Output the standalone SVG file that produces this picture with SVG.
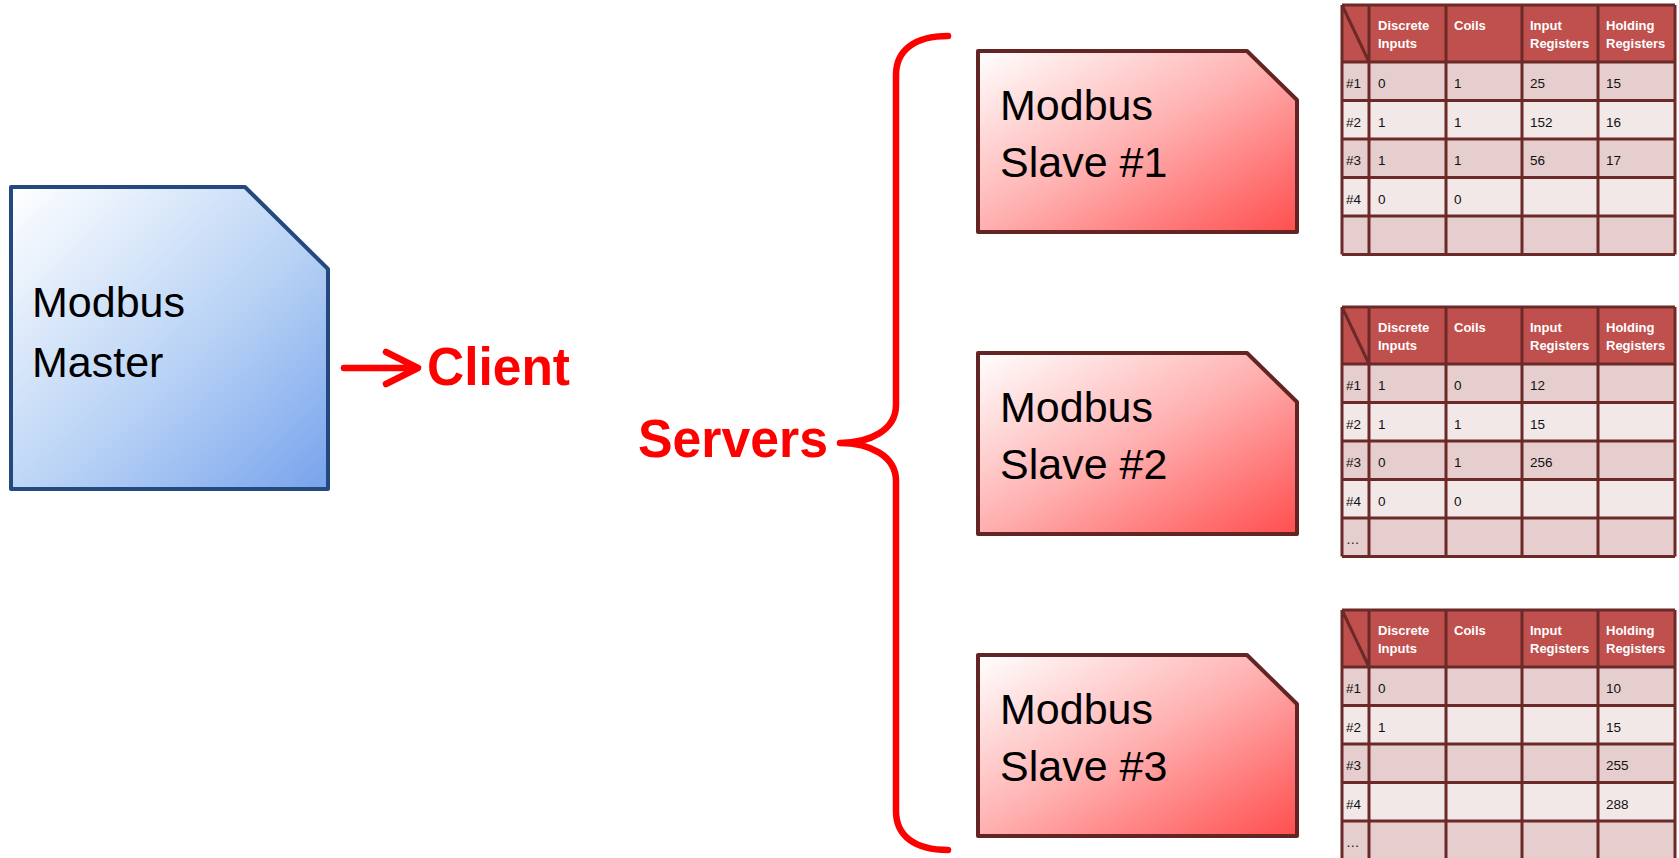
<svg xmlns="http://www.w3.org/2000/svg" width="1679" height="858" viewBox="0 0 1679 858">
<defs>
<linearGradient id="gBlue" x1="0" y1="0" x2="1" y2="1">
<stop offset="0" stop-color="#FFFFFF"/>
<stop offset="0.55" stop-color="#B9D3F5"/>
<stop offset="1" stop-color="#78A3EC"/>
</linearGradient>
<linearGradient id="gRed" x1="0" y1="0" x2="1" y2="1">
<stop offset="0" stop-color="#FFFFFF"/>
<stop offset="0.5" stop-color="#FFAFAF"/>
<stop offset="1" stop-color="#FF4E4E"/>
</linearGradient>
<style>
.big{font-family:"Liberation Sans",Arial,sans-serif;font-size:43px;fill:#000}
.red{font-family:"Liberation Sans",Arial,sans-serif;font-weight:bold;font-size:54px;fill:#FF0000}
.master{fill:url(#gBlue);stroke:#24497E;stroke-width:4;stroke-linejoin:round}
.slave{fill:url(#gRed);stroke:#632523;stroke-width:4;stroke-linejoin:round}
.conn{fill:none;stroke:#FF0000;stroke-width:6.5;stroke-linecap:round;stroke-linejoin:round}
.hd{fill:#C0504D}
.r1{fill:#E6CECE}
.r2{fill:#F2E8E8}
.grid{stroke:#6B2A28;stroke-width:3;fill:none}
.th{font-family:"Liberation Sans",Arial,sans-serif;font-weight:bold;font-size:13px;fill:#FFFFFF}
.td{font-family:"Liberation Sans",Arial,sans-serif;font-size:13.5px;fill:#111}
</style>
</defs>
<rect width="1679" height="858" fill="#FFFFFF"/>

<g id="connectors">
<path class="conn" d="M344 368 H414 M386 352 L418 368 L386 384"/>
<path class="conn" d="M948 36 C915 36 896 50 896 75 L896 405 C896 430 870 443 840 443 C870 443 896 456 896 481 L896 811 C896 836 915 850 948 850"/>
</g>

<g id="master">
<path class="master" d="M11 187 H245 L328 269 V489 H11 Z"/>
<text class="big" x="32" y="317">Modbus</text>
<text class="big" x="32" y="377">Master</text>
</g>

<g id="client-label">
<text class="red" x="427" y="385" textLength="143" lengthAdjust="spacingAndGlyphs">Client</text>
</g>

<g id="servers-label">
<text class="red" x="638" y="457" textLength="190" lengthAdjust="spacingAndGlyphs">Servers</text>
</g>

<g id="slave1">
<path class="slave" d="M978 51 H1247 L1297 100 V232 H978 Z"/>
<text class="big" x="1000" y="120">Modbus</text>
<text class="big" x="1000" y="177">Slave #1</text>
</g>
<g id="slave2">
<path class="slave" d="M978 353 H1247 L1297 402 V534 H978 Z"/>
<text class="big" x="1000" y="422">Modbus</text>
<text class="big" x="1000" y="479">Slave #2</text>
</g>
<g id="slave3">
<path class="slave" d="M978 655 H1247 L1297 704 V836 H978 Z"/>
<text class="big" x="1000" y="724">Modbus</text>
<text class="big" x="1000" y="781">Slave #3</text>
</g>

<g id="table1">
<rect class="hd" x="1342" y="5" width="333" height="57"/>
<rect class="r1" x="1342" y="62" width="333" height="38.5"/>
<rect class="r2" x="1342" y="100.5" width="333" height="38.5"/>
<rect class="r1" x="1342" y="139" width="333" height="38.5"/>
<rect class="r2" x="1342" y="177.5" width="333" height="38.5"/>
<rect class="r1" x="1342" y="216" width="333" height="38.5"/>
<path class="grid" d="M1342 5 H1675 M1342 62 H1675 M1342 100.5 H1675 M1342 139 H1675 M1342 177.5 H1675 M1342 216 H1675 M1342 254.5 H1675 M1342 5 V254.5 M1369 5 V254.5 M1446 5 V254.5 M1522 5 V254.5 M1598 5 V254.5 M1675 5 V254.5 M1342 5 L1369 62"/>
<text class="th" x="1378" y="30">Discrete</text><text class="th" x="1378" y="48">Inputs</text>
<text class="th" x="1454" y="30">Coils</text>
<text class="th" x="1530" y="30">Input</text><text class="th" x="1530" y="48">Registers</text>
<text class="th" x="1606" y="30">Holding</text><text class="th" x="1606" y="48">Registers</text>
<text class="td" x="1346" y="88">#1</text><text class="td" x="1378" y="88">0</text><text class="td" x="1454" y="88">1</text><text class="td" x="1530" y="88">25</text><text class="td" x="1606" y="88">15</text>
<text class="td" x="1346" y="126.5">#2</text><text class="td" x="1378" y="126.5">1</text><text class="td" x="1454" y="126.5">1</text><text class="td" x="1530" y="126.5">152</text><text class="td" x="1606" y="126.5">16</text>
<text class="td" x="1346" y="165">#3</text><text class="td" x="1378" y="165">1</text><text class="td" x="1454" y="165">1</text><text class="td" x="1530" y="165">56</text><text class="td" x="1606" y="165">17</text>
<text class="td" x="1346" y="203.5">#4</text><text class="td" x="1378" y="203.5">0</text><text class="td" x="1454" y="203.5">0</text>
</g>

<g id="table2" transform="translate(0,302)">
<rect class="hd" x="1342" y="5" width="333" height="57"/>
<rect class="r1" x="1342" y="62" width="333" height="38.5"/>
<rect class="r2" x="1342" y="100.5" width="333" height="38.5"/>
<rect class="r1" x="1342" y="139" width="333" height="38.5"/>
<rect class="r2" x="1342" y="177.5" width="333" height="38.5"/>
<rect class="r1" x="1342" y="216" width="333" height="38.5"/>
<path class="grid" d="M1342 5 H1675 M1342 62 H1675 M1342 100.5 H1675 M1342 139 H1675 M1342 177.5 H1675 M1342 216 H1675 M1342 254.5 H1675 M1342 5 V254.5 M1369 5 V254.5 M1446 5 V254.5 M1522 5 V254.5 M1598 5 V254.5 M1675 5 V254.5 M1342 5 L1369 62"/>
<text class="th" x="1378" y="30">Discrete</text><text class="th" x="1378" y="48">Inputs</text>
<text class="th" x="1454" y="30">Coils</text>
<text class="th" x="1530" y="30">Input</text><text class="th" x="1530" y="48">Registers</text>
<text class="th" x="1606" y="30">Holding</text><text class="th" x="1606" y="48">Registers</text>
<text class="td" x="1346" y="88">#1</text><text class="td" x="1378" y="88">1</text><text class="td" x="1454" y="88">0</text><text class="td" x="1530" y="88">12</text>
<text class="td" x="1346" y="126.5">#2</text><text class="td" x="1378" y="126.5">1</text><text class="td" x="1454" y="126.5">1</text><text class="td" x="1530" y="126.5">15</text>
<text class="td" x="1346" y="165">#3</text><text class="td" x="1378" y="165">0</text><text class="td" x="1454" y="165">1</text><text class="td" x="1530" y="165">256</text>
<text class="td" x="1346" y="203.5">#4</text><text class="td" x="1378" y="203.5">0</text><text class="td" x="1454" y="203.5">0</text>
<text class="td" x="1346" y="242" font-size="11">…</text>
</g>

<g id="table3" transform="translate(0,605)">
<rect class="hd" x="1342" y="5" width="333" height="57"/>
<rect class="r1" x="1342" y="62" width="333" height="38.5"/>
<rect class="r2" x="1342" y="100.5" width="333" height="38.5"/>
<rect class="r1" x="1342" y="139" width="333" height="38.5"/>
<rect class="r2" x="1342" y="177.5" width="333" height="38.5"/>
<rect class="r1" x="1342" y="216" width="333" height="38.5"/>
<path class="grid" d="M1342 5 H1675 M1342 62 H1675 M1342 100.5 H1675 M1342 139 H1675 M1342 177.5 H1675 M1342 216 H1675 M1342 254.5 H1675 M1342 5 V254.5 M1369 5 V254.5 M1446 5 V254.5 M1522 5 V254.5 M1598 5 V254.5 M1675 5 V254.5 M1342 5 L1369 62"/>
<text class="th" x="1378" y="30">Discrete</text><text class="th" x="1378" y="48">Inputs</text>
<text class="th" x="1454" y="30">Coils</text>
<text class="th" x="1530" y="30">Input</text><text class="th" x="1530" y="48">Registers</text>
<text class="th" x="1606" y="30">Holding</text><text class="th" x="1606" y="48">Registers</text>
<text class="td" x="1346" y="88">#1</text><text class="td" x="1378" y="88">0</text><text class="td" x="1606" y="88">10</text>
<text class="td" x="1346" y="126.5">#2</text><text class="td" x="1378" y="126.5">1</text><text class="td" x="1606" y="126.5">15</text>
<text class="td" x="1346" y="165">#3</text><text class="td" x="1606" y="165">255</text>
<text class="td" x="1346" y="203.5">#4</text><text class="td" x="1606" y="203.5">288</text>
<text class="td" x="1346" y="242" font-size="11">…</text>
</g>
</svg>
